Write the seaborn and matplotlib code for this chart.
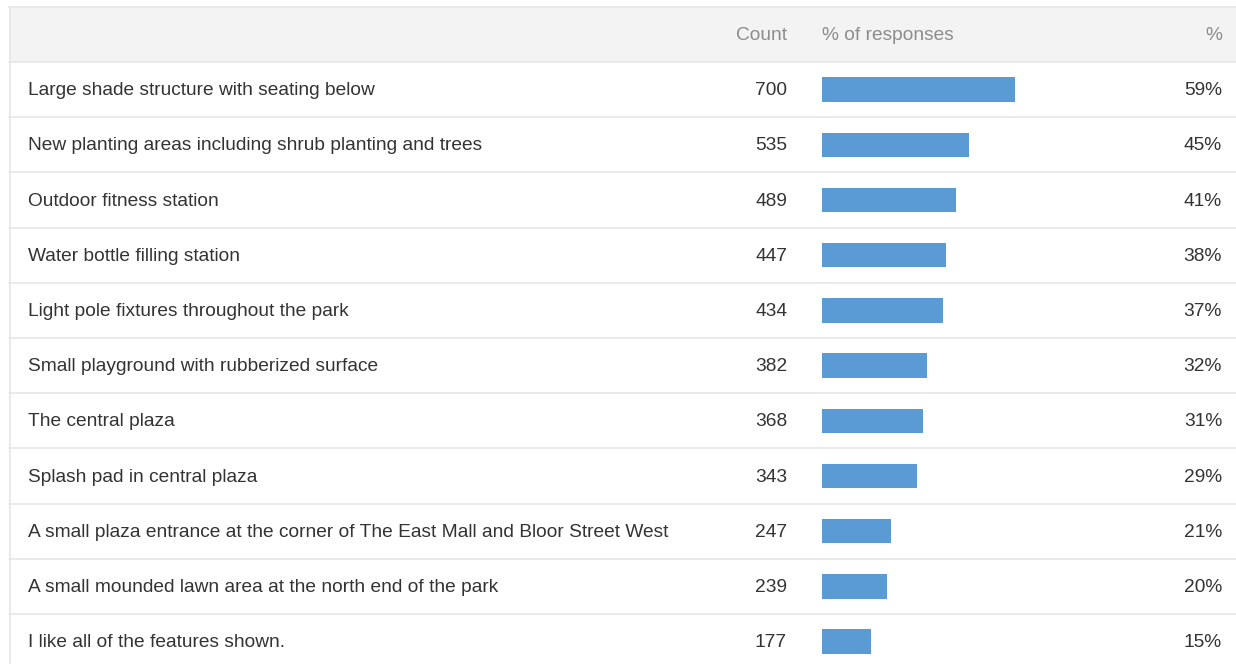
import numpy as np
import pandas as pd
import seaborn as sns
import matplotlib.pyplot as plt

features = [
    'Large shade structure with seating below',
    'New planting areas including shrub planting and trees',
    'Outdoor fitness station',
    'Water bottle filling station',
    'Light pole fixtures throughout the park',
    'Small playground with rubberized surface',
    'The central plaza',
    'Splash pad in central plaza',
    'A small plaza entrance at the corner of The East Mall and Bloor Street West',
    'A small mounded lawn area at the north end of the park',
    'I like all of the features shown.',
]
counts = [700, 535, 489, 447, 434, 382, 368, 343, 247, 239, 177]
pcts = [59, 45, 41, 38, 37, 32, 31, 29, 21, 20, 15]
headers = ['Count', '% of responses', '%']

df = pd.DataFrame({'feature': features, 'count': counts, 'pct': pcts})

sns.set_style('white')
plt.rcParams['font.family'] = ['Liberation Sans', 'DejaVu Sans']

W, H = 1236, 664
fig = plt.figure(figsize=(W / 100, H / 100), dpi=100)
fig.patch.set_facecolor('white')

# row units: row i centred on i, header on -1
row_h = 55.2
y_top = -0.5 - 62 / row_h
y_bot = -0.5 + (H - 62) / row_h

# background axes in pixel x, row y
bg = fig.add_axes([0, 0, 1, 1])
bg.set_xlim(0, W)
bg.set_ylim(y_bot, y_top)
bg.axis('off')

line_c = '#e6e6e6'
bg.axhspan(-1.5, -0.5, xmin=9 / W, xmax=1, color='#f3f3f3', lw=0, zorder=0)
bg.plot([9.5, 9.5], [-1.5, y_bot], color=line_c, lw=1.2, zorder=1)
bg.axhline(-1.5, xmin=9 / W, color=line_c, lw=1.2, zorder=1)
for i in range(-1, len(features) - 1):
    bg.axhline(i + 0.5, xmin=9 / W, color=line_c, lw=1.2, zorder=1)

text_c = '#333333'
head_c = '#8c8c8c'
fs = 13.8
dy = 0.02  # text sits a hair below the row centre
bg.text(787, -1 + dy, headers[0], ha='right', va='center', color=head_c, fontsize=fs)
bg.text(822, -1 + dy, headers[1], ha='left', va='center', color=head_c, fontsize=fs)
bg.text(1222, -1 + dy, headers[2], ha='right', va='center', color=head_c, fontsize=fs)

for i, row in df.iterrows():
    bg.text(28, i + dy, row['feature'], ha='left', va='center', color=text_c, fontsize=fs)
    bg.text(787, i + dy, f"{row['count']}", ha='right', va='center', color=text_c, fontsize=fs)
    bg.text(1222, i + dy, f"{row['pct']}%", ha='right', va='center', color=text_c, fontsize=fs)

# bar axes: 0-100% spans ~327 px starting at x=822
bar_ax = fig.add_axes([822 / W, 0, 327 / W, 1])
sns.barplot(data=df, x='pct', y='feature', orient='h', color='#5b9bd5',
            saturation=1, width=0.44, linewidth=0, ax=bar_ax)
bar_ax.set_xlim(0, 100)
bar_ax.set_ylim(y_bot, y_top)
bar_ax.axis('off')
bar_ax.patch.set_alpha(0)

fig.savefig('out.png', dpi=100, facecolor='white')
